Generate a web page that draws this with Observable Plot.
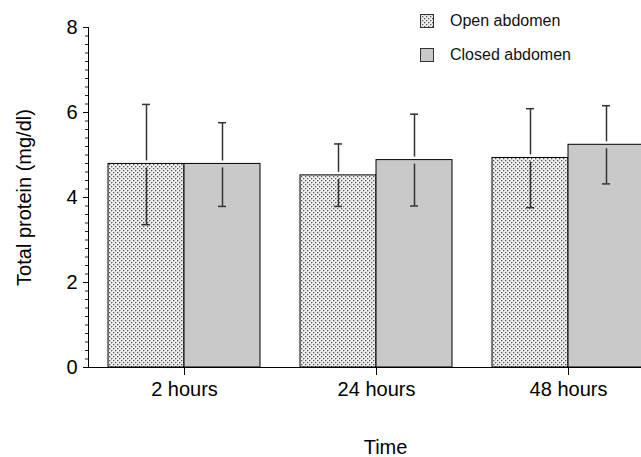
<!DOCTYPE html>
<html>
<head>
<meta charset="utf-8">
<script src="https://cdn.jsdelivr.net/npm/d3@7"></script>
<script src="https://cdn.jsdelivr.net/npm/@observablehq/plot@0.6"></script>
<style>
  html, body { margin: 0; padding: 0; background: white; }
  #wrap { position: relative; width: 641px; height: 457px; overflow: hidden; background: white; font-family: Arial, "Liberation Sans", sans-serif; }
  #legend { position: absolute; left: 420px; top: 12px; font-size: 16px; color: #111; }
  .item { display: flex; align-items: center; height: 18px; margin-bottom: 16px; }
  .item svg { margin-right: 16px; }
</style>
</head>
<body>
<svg width="0" height="0" style="position:absolute">
  <defs>
    <pattern id="dots" patternUnits="userSpaceOnUse" width="4" height="4">
      <rect width="4" height="4" fill="#efefef"></rect>
      <rect x="0" y="0" width="1.3" height="1.3" fill="#555"></rect>
      <rect x="2" y="2" width="1.3" height="1.3" fill="#555"></rect>
    </pattern>
  </defs>
</svg>
<div id="wrap"><div id="legend"></div></div>
<script>
const times = ["2 hours", "24 hours", "48 hours"];
const groups = ["Open abdomen", "Closed abdomen"];
const openMean = [4.79, 4.52, 4.93];
const openLow = [3.36, 3.79, 3.76];
const openHigh = [6.19, 5.26, 6.09];
const closedMean = [4.79, 4.88, 5.24];
const closedLow = [3.79, 3.80, 4.32];
const closedHigh = [5.76, 5.96, 6.16];
const yTicks = [0, 2, 4, 6, 8];
const xTitle = "Time";
const yTitle = "Total protein (mg/dl)";
const fills = ["url(#dots)", "#c9c9c9"];

const data = times.flatMap((t, i) => [
  {time: t, group: groups[0], mean: openMean[i], lo: openLow[i], hi: openHigh[i]},
  {time: t, group: groups[1], mean: closedMean[i], lo: closedLow[i], hi: closedHigh[i]}
]);

const errColor = "#333";
const chart = Plot.plot({
  width: 684,
  height: 457,
  marginLeft: 87,
  marginRight: 0,
  marginTop: 27,
  marginBottom: 90,
  style: "max-width:none; background:white; font-family: Arial, 'Liberation Sans', sans-serif; color:#000; position:absolute; left:0; top:0;",
  fx: {domain: times, range: [87, 665], paddingInner: 0, paddingOuter: 0},
  x: {domain: groups, paddingInner: 0, paddingOuter: 0.25, axis: null},
  y: {domain: [0, 8]},
  color: {domain: groups, range: fills},
  marks: [
    Plot.barY(data, {fx: "time", x: "group", y: "mean", fill: "group", stroke: "#000", strokeWidth: 1}),
    Plot.ruleY([0], {stroke: "#000", strokeWidth: 1}),
    Plot.ruleX(data, {fx: "time", x: "group", y1: "hi", y2: "mean", insetBottom: 3, stroke: errColor, strokeWidth: 1.5}),
    Plot.ruleX(data, {fx: "time", x: "group", y1: "mean", y2: "lo", insetTop: 4, stroke: errColor, strokeWidth: 1.5}),
    Plot.tickY(data, {fx: "time", x: "group", y: "hi", insetLeft: 34, insetRight: 34, stroke: errColor, strokeWidth: 1.5}),
    Plot.tickY(data, {fx: "time", x: "group", y: "lo", insetLeft: 34, insetRight: 34, stroke: errColor, strokeWidth: 1.5}),
    Plot.frame({anchor: "left", facetAnchor: "left", stroke: "#000"}),
    Plot.axisY({ticks: d3.range(0, 8.0001, 0.2), tickSize: 3, text: null, label: null, stroke: "#222"}),
    Plot.axisY({ticks: yTicks, tickSize: 5, tickPadding: 6, fontSize: 20,
      label: yTitle, labelAnchor: "center", labelArrow: "none", labelOffset: 72}),
    Plot.axisFx({anchor: "bottom", tickSize: 8, tickPadding: 6, fontSize: 20, label: null}),
    Plot.text([xTitle], {text: d => d, facet: "super", frameAnchor: "bottom", dx: 9, dy: 86, fontSize: 20, fill: "#000"})
  ]
});
document.getElementById("wrap").prepend(chart);

const legend = document.getElementById("legend");
groups.forEach((g, i) => {
  const item = document.createElement("div");
  item.className = "item";
  item.innerHTML = `<svg width="14" height="14"><rect x="0.5" y="0.5" width="13" height="13" fill="${fills[i]}" stroke="#333" stroke-width="1"></rect></svg><span>${g}</span>`;
  legend.appendChild(item);
});
</script>
</body>
</html>
